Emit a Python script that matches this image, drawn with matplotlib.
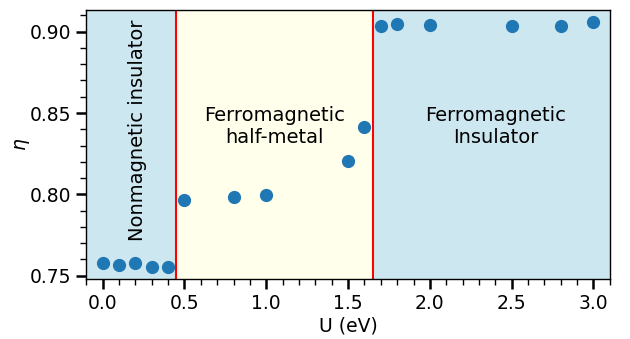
import matplotlib
matplotlib.use("Agg")
import matplotlib.pyplot as plt
from matplotlib.ticker import MultipleLocator

U = [0.0, 0.1, 0.2, 0.3, 0.4, 0.5, 0.8, 1.0, 1.5, 1.6, 1.7, 1.8, 2.0, 2.5, 2.8, 3.0]
eta = [0.758, 0.7568, 0.758, 0.7555, 0.7555, 0.7967, 0.7986, 0.7998, 0.8207, 0.8416,
       0.9033, 0.9049, 0.9039, 0.9033, 0.9033, 0.9057]
boundaries = [0.45, 1.65]
labels = ["Nonmagnetic insulator", "Ferromagnetic\nhalf-metal", "Ferromagnetic\nInsulator"]

plt.rcParams['font.size'] = 13.5
fig, ax = plt.subplots(figsize=(6.3, 3.39), dpi=100)
ax.plot(U, eta, 'o', color='#1f77b4', markersize=8.5, zorder=3)
ax.margins(y=0.05)
ax.axvspan(-0.1, boundaries[0], color='lightblue', alpha=0.6, lw=0, zorder=0)
ax.axvspan(boundaries[0], boundaries[1], color='lightyellow', alpha=0.6, lw=0, zorder=0)
ax.axvspan(boundaries[1], 3.1, color='lightblue', alpha=0.6, lw=0, zorder=0)
for b in boundaries:
    ax.axvline(b, color='red', lw=1.5, zorder=2)
ax.set_xlim(-0.1, 3.1)
ax.text(0.213, 0.8394, labels[0], rotation=90, ha='center', va='center', fontsize=14)
ax.text(1.05, 0.8415, labels[1], ha='center', va='center', fontsize=14)
ax.text(2.4, 0.8415, labels[2], ha='center', va='center', fontsize=14)
ax.set_xlabel('U (eV)', labelpad=3)
ax.set_ylabel(r'$\eta$', labelpad=-1)
ax.xaxis.set_major_locator(MultipleLocator(0.5))
ax.xaxis.set_minor_locator(MultipleLocator(0.1))
ax.yaxis.set_major_locator(MultipleLocator(0.05))
ax.yaxis.set_minor_locator(MultipleLocator(0.01))
ax.tick_params(which='major', length=7, width=1.8)
ax.tick_params(which='minor', length=4, width=1)
for s in ax.spines.values():
    s.set_linewidth(1.0)
fig.subplots_adjust(left=0.137, right=0.968, top=0.97, bottom=0.177)
fig.savefig('out.png', dpi=100)
